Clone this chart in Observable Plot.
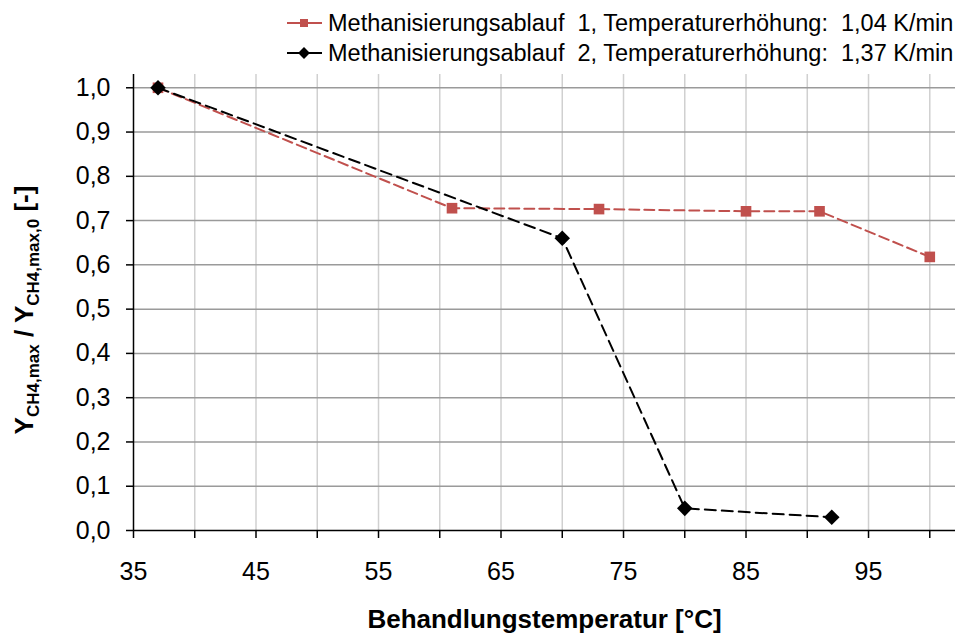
<!DOCTYPE html>
<html>
<head>
<meta charset="utf-8">
<script src="https://cdn.jsdelivr.net/npm/d3@7"></script>
<script src="https://cdn.jsdelivr.net/npm/@observablehq/plot@0.6"></script>
<style>
  html, body { margin: 0; padding: 0; background: #fff; }
  #wrap { position: relative; width: 955px; height: 638px; font-family: "Liberation Sans", Arial, sans-serif; }
  #legend { position: absolute; left: 287px; top: 8px; font-size: 23.5px; color: #000; }
  .row { height: 30px; display: flex; align-items: center; white-space: pre; }
  .row svg { margin-right: 6px; }
</style>
</head>
<body>
<div id="wrap"><div id="legend"></div></div>
<script>
// Series 1: Methanisierungsablauf 1 (1,04 K/min)
const temp1 = [37, 61, 73, 85, 91, 100];
const ratio1 = [1.0, 0.728, 0.726, 0.721, 0.721, 0.618];
// Series 2: Methanisierungsablauf 2 (1,37 K/min)
const temp2 = [37, 70, 80, 92];
const ratio2 = [1.0, 0.66, 0.05, 0.03];

const seriesNames = [
  "Methanisierungsablauf  1, Temperaturerhöhung:  1,04 K/min",
  "Methanisierungsablauf  2, Temperaturerhöhung:  1,37 K/min"
];
const seriesColors = ["#C0504D", "#000000"];
const seriesSymbols = ["square", "diamond2"];

const xTicks = [35, 40, 45, 50, 55, 60, 65, 70, 75, 80, 85, 90, 95, 100];
const xLabels = [35, 45, 55, 65, 75, 85, 95];
const yTicks = [0, 0.1, 0.2, 0.3, 0.4, 0.5, 0.6, 0.7, 0.8, 0.9, 1.0];
const xTitle = "Behandlungstemperatur [°C]";

const data1 = temp1.map((t, i) => ({t, r: ratio1[i]}));
const data2 = temp2.map((t, i) => ({t, r: ratio2[i]}));

const font = '"Liberation Sans", Arial, sans-serif';

const chart = Plot.plot({
  width: 955,
  height: 638,
  marginLeft: 133,
  marginRight: 0,
  marginTop: 74,
  marginBottom: 108,
  style: {fontFamily: font, fontSize: "25px", color: "#000", background: "#fff"},
  x: {domain: [35, 102.1]},
  y: {domain: [0, 1.03]},
  marks: [
    Plot.gridX(xTicks.filter(d => d !== 35), {stroke: "#d0d0d0", strokeOpacity: 1, strokeWidth: 1.5}),
    Plot.gridY(yTicks.filter(d => d !== 0), {stroke: "#9a9a9a", strokeOpacity: 1, strokeWidth: 1.5}),
    Plot.axisX({ticks: xTicks, tickSize: 8, tickPadding: 24, tickFormat: d => xLabels.includes(d) ? String(d) : "", label: null, fontSize: 25, strokeWidth: 1.5}),
    Plot.axisY({ticks: yTicks, tickSize: 7, tickPadding: 16, tickFormat: d => d.toFixed(1).replace(".", ","), label: null, fontSize: 25, strokeWidth: 1.5}),
    Plot.ruleY([0], {stroke: "#000", strokeWidth: 1.5}),
    Plot.ruleX([35], {stroke: "#000", strokeWidth: 1.5}),
    Plot.line(data1, {x: "t", y: "r", stroke: seriesColors[0], strokeWidth: 2, strokeDasharray: "10,5"}),
    Plot.dot(data1, {x: "t", y: "r", symbol: seriesSymbols[0], fill: seriesColors[0], r: 6, stroke: "none"}),
    Plot.line(data2, {x: "t", y: "r", stroke: seriesColors[1], strokeWidth: 2, strokeDasharray: "11,6"}),
    Plot.dot(data2, {x: "t", y: "r", symbol: seriesSymbols[1], fill: seriesColors[1], r: 7, stroke: "none"}),
    Plot.text([xTitle], {frameAnchor: "bottom", dy: 97, fontWeight: "bold", fontSize: 26, fill: "#000"})
  ]
});

document.getElementById("wrap").appendChild(chart);

// Y-axis title with subscripts
const svg = d3.select(chart);
const yt = svg.append("text")
  .attr("transform", "translate(33,310) rotate(-90)")
  .attr("text-anchor", "middle")
  .attr("font-family", font)
  .attr("font-weight", "bold")
  .attr("font-size", 26)
  .attr("fill", "#000");
yt.append("tspan").text("Y");
yt.append("tspan").attr("font-size", 17).attr("dy", 6).text("CH4,max");
yt.append("tspan").attr("dy", -6).text(" / Y");
yt.append("tspan").attr("font-size", 17).attr("dy", 6).text("CH4,max,0");
yt.append("tspan").attr("dy", -6).text(" [-]");

// Legend
const legend = d3.select("#legend");
seriesNames.forEach((name, i) => {
  const row = legend.append("div").attr("class", "row");
  const s = row.append("svg").attr("width", 35).attr("height", 20);
  s.append("line").attr("x1", 0).attr("x2", 35).attr("y1", 10).attr("y2", 10)
    .attr("stroke", seriesColors[i]).attr("stroke-width", 2);
  s.append("path")
    .attr("transform", "translate(17,10)")
    .attr("d", d3.symbol(i === 0 ? d3.symbolSquare : d3.symbolDiamond2, i === 0 ? 64 : 90)())
    .attr("fill", seriesColors[i]);
  row.append("span").text(name);
});
</script>
</body>
</html>
